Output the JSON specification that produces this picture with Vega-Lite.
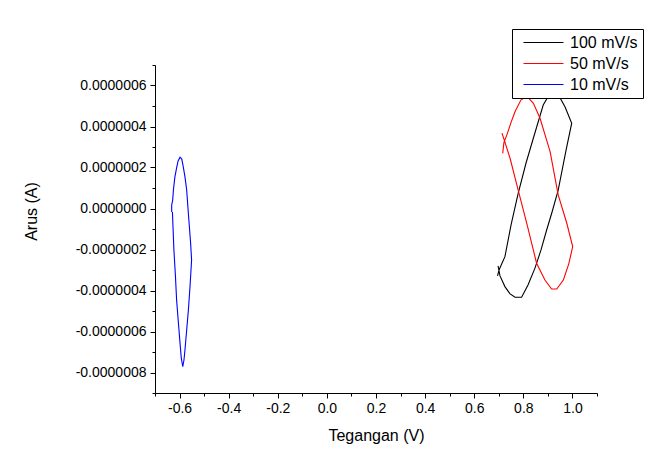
{
  "$schema": "https://vega.github.io/schema/vega-lite/v6.json",
  "width": 442,
  "height": 328,
  "autosize": {"type": "none"},
  "padding": {"left": 155, "top": 65, "right": 57, "bottom": 73},
  "background": "white",
  "config": {
    "locale": {"number": {"decimal": ".", "thousands": ",", "grouping": [3], "currency": ["$", ""], "minus": "-"}},
    "font": "Liberation Sans",
    "view": {"stroke": null},
    "axis": {
      "grid": false,
      "domainColor": "black",
      "tickColor": "black",
      "labelColor": "black",
      "titleColor": "black",
      "labelFont": "Liberation Sans",
      "titleFont": "Liberation Sans",
      "titleFontWeight": "normal",
      "labelFontSize": 14,
      "titleFontSize": 16,
      "tickSize": 5,
      "domainWidth": 1,
      "tickWidth": 1
    },
    "legend": {
      "labelFont": "Liberation Sans",
      "labelFontSize": 16,
      "labelColor": "black"
    }
  },
  "data": {
    "values": [
      {"scan": "100 mV/s", "i": 0, "v": 0.695, "a": -3.29e-7},
      {"scan": "100 mV/s", "i": 1, "v": 0.701, "a": -3.00e-7},
      {"scan": "100 mV/s", "i": 2, "v": 0.725, "a": -2.35e-7},
      {"scan": "100 mV/s", "i": 3, "v": 0.750, "a": -0.80e-7},
      {"scan": "100 mV/s", "i": 4, "v": 0.779, "a": 0.74e-7},
      {"scan": "100 mV/s", "i": 5, "v": 0.811, "a": 2.22e-7},
      {"scan": "100 mV/s", "i": 6, "v": 0.841, "a": 3.44e-7},
      {"scan": "100 mV/s", "i": 7, "v": 0.881, "a": 5.05e-7},
      {"scan": "100 mV/s", "i": 8, "v": 0.900, "a": 5.44e-7},
      {"scan": "100 mV/s", "i": 9, "v": 0.922, "a": 5.67e-7},
      {"scan": "100 mV/s", "i": 10, "v": 0.941, "a": 5.59e-7},
      {"scan": "100 mV/s", "i": 11, "v": 0.970, "a": 4.95e-7},
      {"scan": "100 mV/s", "i": 12, "v": 0.997, "a": 4.16e-7},
      {"scan": "100 mV/s", "i": 13, "v": 0.974, "a": 2.85e-7},
      {"scan": "100 mV/s", "i": 14, "v": 0.942, "a": 0.90e-7},
      {"scan": "100 mV/s", "i": 15, "v": 0.917, "a": -0.17e-7},
      {"scan": "100 mV/s", "i": 16, "v": 0.895, "a": -1.05e-7},
      {"scan": "100 mV/s", "i": 17, "v": 0.872, "a": -2.02e-7},
      {"scan": "100 mV/s", "i": 18, "v": 0.847, "a": -2.92e-7},
      {"scan": "100 mV/s", "i": 19, "v": 0.819, "a": -3.73e-7},
      {"scan": "100 mV/s", "i": 20, "v": 0.793, "a": -4.33e-7},
      {"scan": "100 mV/s", "i": 21, "v": 0.766, "a": -4.33e-7},
      {"scan": "100 mV/s", "i": 22, "v": 0.745, "a": -4.15e-7},
      {"scan": "100 mV/s", "i": 23, "v": 0.725, "a": -3.81e-7},
      {"scan": "100 mV/s", "i": 24, "v": 0.705, "a": -3.29e-7},
      {"scan": "100 mV/s", "i": 25, "v": 0.697, "a": -2.80e-7},
      {"scan": "50 mV/s", "i": 0, "v": 0.716, "a": 2.69e-7},
      {"scan": "50 mV/s", "i": 1, "v": 0.721, "a": 3.23e-7},
      {"scan": "50 mV/s", "i": 2, "v": 0.733, "a": 3.59e-7},
      {"scan": "50 mV/s", "i": 3, "v": 0.750, "a": 4.20e-7},
      {"scan": "50 mV/s", "i": 4, "v": 0.766, "a": 4.72e-7},
      {"scan": "50 mV/s", "i": 5, "v": 0.790, "a": 5.29e-7},
      {"scan": "50 mV/s", "i": 6, "v": 0.815, "a": 5.47e-7},
      {"scan": "50 mV/s", "i": 7, "v": 0.841, "a": 5.13e-7},
      {"scan": "50 mV/s", "i": 8, "v": 0.868, "a": 4.40e-7},
      {"scan": "50 mV/s", "i": 9, "v": 0.909, "a": 2.77e-7},
      {"scan": "50 mV/s", "i": 10, "v": 0.942, "a": 0.66e-7},
      {"scan": "50 mV/s", "i": 11, "v": 0.977, "a": -0.72e-7},
      {"scan": "50 mV/s", "i": 12, "v": 1.001, "a": -1.86e-7},
      {"scan": "50 mV/s", "i": 13, "v": 0.985, "a": -2.70e-7},
      {"scan": "50 mV/s", "i": 14, "v": 0.963, "a": -3.49e-7},
      {"scan": "50 mV/s", "i": 15, "v": 0.936, "a": -3.93e-7},
      {"scan": "50 mV/s", "i": 16, "v": 0.915, "a": -3.93e-7},
      {"scan": "50 mV/s", "i": 17, "v": 0.888, "a": -3.49e-7},
      {"scan": "50 mV/s", "i": 18, "v": 0.854, "a": -2.67e-7},
      {"scan": "50 mV/s", "i": 19, "v": 0.814, "a": -0.72e-7},
      {"scan": "50 mV/s", "i": 20, "v": 0.779, "a": 0.90e-7},
      {"scan": "50 mV/s", "i": 21, "v": 0.746, "a": 2.45e-7},
      {"scan": "50 mV/s", "i": 22, "v": 0.725, "a": 3.24e-7},
      {"scan": "50 mV/s", "i": 23, "v": 0.713, "a": 3.68e-7},
      {"scan": "10 mV/s", "i": 0, "v": -0.632, "a": -0.17e-7},
      {"scan": "10 mV/s", "i": 1, "v": -0.632, "a": 0.17e-7},
      {"scan": "10 mV/s", "i": 2, "v": -0.628, "a": 0.41e-7},
      {"scan": "10 mV/s", "i": 3, "v": -0.625, "a": 0.90e-7},
      {"scan": "10 mV/s", "i": 4, "v": -0.619, "a": 1.54e-7},
      {"scan": "10 mV/s", "i": 5, "v": -0.612, "a": 1.98e-7},
      {"scan": "10 mV/s", "i": 6, "v": -0.606, "a": 2.32e-7},
      {"scan": "10 mV/s", "i": 7, "v": -0.598, "a": 2.50e-7},
      {"scan": "10 mV/s", "i": 8, "v": -0.591, "a": 2.41e-7},
      {"scan": "10 mV/s", "i": 9, "v": -0.585, "a": 2.04e-7},
      {"scan": "10 mV/s", "i": 10, "v": -0.578, "a": 1.54e-7},
      {"scan": "10 mV/s", "i": 11, "v": -0.571, "a": 0.90e-7},
      {"scan": "10 mV/s", "i": 12, "v": -0.566, "a": 0.07e-7},
      {"scan": "10 mV/s", "i": 13, "v": -0.560, "a": -0.89e-7},
      {"scan": "10 mV/s", "i": 14, "v": -0.555, "a": -1.68e-7},
      {"scan": "10 mV/s", "i": 15, "v": -0.551, "a": -2.51e-7},
      {"scan": "10 mV/s", "i": 16, "v": -0.557, "a": -3.73e-7},
      {"scan": "10 mV/s", "i": 17, "v": -0.564, "a": -4.95e-7},
      {"scan": "10 mV/s", "i": 18, "v": -0.571, "a": -5.93e-7},
      {"scan": "10 mV/s", "i": 19, "v": -0.578, "a": -6.90e-7},
      {"scan": "10 mV/s", "i": 20, "v": -0.582, "a": -7.39e-7},
      {"scan": "10 mV/s", "i": 21, "v": -0.587, "a": -7.72e-7},
      {"scan": "10 mV/s", "i": 22, "v": -0.593, "a": -7.29e-7},
      {"scan": "10 mV/s", "i": 23, "v": -0.598, "a": -6.58e-7},
      {"scan": "10 mV/s", "i": 24, "v": -0.605, "a": -5.54e-7},
      {"scan": "10 mV/s", "i": 25, "v": -0.612, "a": -4.46e-7},
      {"scan": "10 mV/s", "i": 26, "v": -0.617, "a": -3.24e-7},
      {"scan": "10 mV/s", "i": 27, "v": -0.623, "a": -2.02e-7},
      {"scan": "10 mV/s", "i": 28, "v": -0.627, "a": -0.80e-7},
      {"scan": "10 mV/s", "i": 29, "v": -0.629, "a": -0.17e-7}
    ]
  },
  "layer": [
    {
      "mark": {"type": "line", "strokeWidth": 1.1, "clip": false},
      "encoding": {
        "x": {
          "field": "v", "type": "quantitative",
          "scale": {"domain": [-0.7, 1.1], "nice": false, "zero": false},
          "axis": {
            "orient": "bottom",
            "title": "Tegangan (V)",
            "values": [-0.6, -0.4, -0.2, 0, 0.2, 0.4, 0.6, 0.8, 1.0],
            "format": ".1f",
            "labelPadding": 3,
            "titlePadding": 12
          }
        },
        "y": {
          "field": "a", "type": "quantitative",
          "scale": {"domain": [-9e-7, 7e-7], "nice": false, "zero": false},
          "axis": {
            "orient": "left",
            "title": "Arus (A)",
            "values": [-8e-7, -6e-7, -4e-7, -2e-7, 0, 2e-7, 4e-7, 6e-7],
            "format": ".7f",
            "labelPadding": 4,
            "titleX": -116,
            "titleY": 146
          }
        },
        "color": {
          "field": "scan", "type": "nominal",
          "scale": {"domain": ["100 mV/s", "50 mV/s", "10 mV/s"], "range": ["#000000", "#ff0000", "#0000ff"]},
          "legend": {
            "orient": "none",
            "legendX": 357,
            "legendY": -36,
            "title": null,
            "symbolType": "M-0.25,0H4.75",
            "symbolSize": 256,
            "symbolStrokeWidth": 1,
            "labelOffset": 36,
            "padding": 5,
            "rowPadding": 4,
            "strokeColor": "black",
            "fillColor": "white"
          }
        },
        "order": {"field": "i", "type": "quantitative"}
      }
    },
    {
      "mark": {"type": "line", "strokeOpacity": 0},
      "encoding": {
        "x": {
          "field": "v", "type": "quantitative",
          "axis": {
            "orient": "bottom",
            "title": null,
            "labels": false,
            "domain": false,
            "tickSize": 3,
            "values": [-0.7, -0.5, -0.3, -0.1, 0.1, 0.3, 0.5, 0.7, 0.9, 1.1]
          }
        },
        "y": {
          "field": "a", "type": "quantitative",
          "axis": {
            "orient": "left",
            "title": null,
            "labels": false,
            "domain": false,
            "tickSize": 3,
            "values": [-9e-7, -7e-7, -5e-7, -3e-7, -1e-7, 1e-7, 3e-7, 5e-7, 7e-7]
          }
        },
        "detail": {"field": "scan", "type": "nominal"},
        "order": {"field": "i", "type": "quantitative"}
      }
    }
  ],
  "resolve": {"axis": {"x": "independent", "y": "independent"}}
}
